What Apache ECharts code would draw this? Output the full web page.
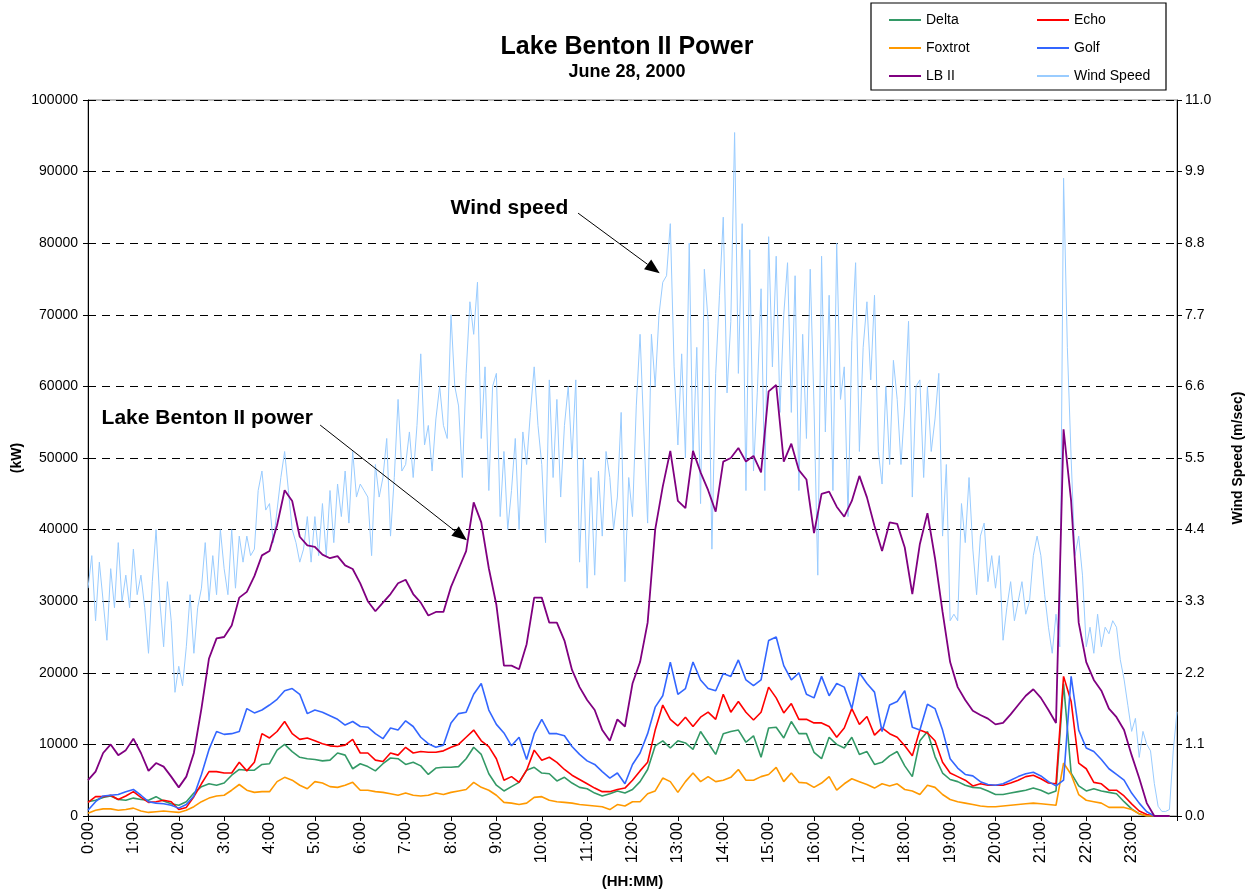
<!DOCTYPE html>
<html>
<head>
<meta charset="utf-8">
<title>Lake Benton II Power</title>
<script src="https://cdn.jsdelivr.net/npm/echarts@6/dist/echarts.min.js"></script>
<style>
  html, body { margin: 0; padding: 0; background: #fff; }
  #chart { width: 1254px; height: 890px; }
</style>
</head>
<body>
<div id="chart"></div>
<script>
// hour labels on the time axis (minutes from midnight)
const hourTicks = ['0:00', '1:00', '2:00', '3:00', '4:00', '5:00', '6:00', '7:00', '8:00', '9:00', '10:00', '11:00',
  '12:00', '13:00', '14:00', '15:00', '16:00', '17:00', '18:00', '19:00', '20:00', '21:00', '22:00', '23:00']

// power series, one value every 10 minutes (kW)
const powerStep = 10
const delta = [
  2000, 2200, 2600, 2800, 2300, 2200, 2500, 2300, 2200, 2700, 2100, 1700,
  1500, 2000, 3200, 4100, 4500, 4300, 4600, 5700, 6500, 6400, 6400, 7200,
  7300, 9200, 10000, 9000, 8200, 8000, 7900, 7700, 7800, 8800, 8500, 6600,
  7300, 6900, 6300, 7300, 8100, 8000, 7200, 7500, 7000, 5800, 6700, 6800,
  6800, 6900, 8000, 9600, 8600, 5900, 4300, 3500, 4100, 4700, 6400, 6800,
  6000, 5900, 4900, 5400, 4600, 4000, 3800, 3200, 2800, 3100, 3500, 3200,
  3700, 4800, 6500, 9800, 10500, 9500, 10500, 10200, 9300, 11800, 10200, 8600,
  11500, 11800, 12000, 10300, 11200, 8200, 12300, 12400, 10900, 13200, 11500, 11500,
  8900, 8000, 11000, 10000, 9500, 11000, 8600, 9000, 7200, 7500, 8400, 9000,
  7000, 5500, 10500, 11800, 8300, 6000, 5100, 4800, 4300, 4000, 3900, 3500,
  3000, 3000, 3200, 3400, 3600, 3900, 3600, 3100, 3500, 18500, 6000, 4200,
  3500, 3800, 3500, 3300, 3100, 2000, 1000, 300, 0, 0, 0, 0
]
const echo = [
  1900, 2700, 2700, 2900, 2300, 2800, 3400, 2600, 1900, 2000, 2200, 2000,
  900, 1200, 2700, 4500, 6200, 6200, 6000, 6000, 7500, 6300, 7500, 11500,
  10900, 11800, 13200, 11500, 10700, 10900, 10500, 10100, 9800, 9700, 9900, 10700,
  8800, 8800, 7800, 7600, 8800, 8500, 9600, 8800, 9000, 8900, 8900, 9100,
  9600, 10000, 11000, 12000, 10500, 9700, 8000, 5000, 5500, 4700, 6400, 9200,
  7800, 8200, 7500, 6500, 5700, 5100, 4500, 3900, 3400, 3400, 3700, 3900,
  5000, 6300, 7500, 12000, 15500, 13500, 12600, 13800, 12500, 13800, 14500, 13500,
  17000, 14500, 16000, 14500, 13400, 14500, 18000, 16500, 14400, 15700, 13500, 13500,
  13000, 13000, 12500, 11000, 12300, 15000, 12800, 13900, 11300, 12300, 11500, 11000,
  9800, 8400, 12000, 11600, 10500, 7500, 6000, 5500, 5000, 4200, 4500, 4300,
  4300, 4300, 4600, 5000, 5500, 5700, 5200, 4600, 4500, 19500, 16000, 7400,
  6600, 4700, 4500, 3600, 3600, 2800, 1700, 700, 200, 0, 0, 0
]
const foxtrot = [
  400, 800, 1000, 1000, 800, 900, 1100, 700, 500, 600, 700, 600,
  500, 800, 1300, 2000, 2500, 2800, 2900, 3600, 4400, 3600, 3300, 3400,
  3400, 4800, 5400, 5000, 4300, 3800, 4800, 4600, 4100, 4000, 4300, 4700,
  3600, 3600, 3400, 3300, 3100, 2900, 3200, 2900, 2800, 2900, 3200, 3000,
  3300, 3500, 3700, 4700, 4000, 3600, 2900, 1900, 1800, 1600, 1800, 2600,
  2700, 2200, 2000, 1900, 1800, 1600, 1500, 1400, 1300, 900, 1600, 1400,
  2000, 2000, 3100, 3500, 5300, 4800, 3300, 4800, 6000, 4800, 5500, 4800,
  5000, 5400, 6500, 5000, 5000, 5500, 5800, 6800, 4800, 6000, 4700, 4600,
  4000, 4600, 5500, 3600, 4500, 5200, 4800, 4400, 3900, 4500, 4200, 4500,
  3700, 3500, 3000, 4300, 4000, 3000, 2300, 2000, 1800, 1600, 1400, 1300,
  1300, 1400, 1500, 1600, 1700, 1800, 1700, 1600, 1500, 7400, 5800, 3000,
  2200, 2000, 1800, 1200, 1200, 1200, 900, 300, 0, 0, 0, 0
]
const golf = [
  800, 2000, 2800, 2900, 3000, 3400, 3700, 2900, 2000, 1800, 1700, 1500,
  1100, 1600, 2800, 5800, 9300, 11800, 11400, 11500, 11800, 15000, 14400, 14800,
  15500, 16300, 17500, 17800, 17000, 14300, 14800, 14500, 14000, 13500, 12700, 13200,
  12500, 12400, 11500, 10800, 12300, 12000, 13300, 12500, 11000, 10100, 9600, 9900,
  13000, 14300, 14500, 17000, 18500, 14800, 12800, 11600, 9800, 11000, 7900, 11500,
  13500, 11500, 11500, 11200, 9700, 8600, 7700, 7200, 6200, 5300, 6000, 4500,
  7200, 8800, 11500, 15200, 16800, 21500, 17000, 17800, 21500, 19000, 17800, 17500,
  19900, 19500, 21800, 19000, 18200, 19000, 24500, 25000, 21000, 19000, 20000, 17000,
  16500, 19500, 16800, 18500, 18000, 15000, 20000, 18500, 17300, 11800, 15500, 16000,
  17500, 12400, 12000, 15600, 15000, 12000, 8000, 6700, 5800, 5600, 4800, 4400,
  4300, 4500, 5000, 5500, 5900, 6100, 5600, 4800, 4200, 5000, 19500, 12000,
  9500, 9000, 7900, 6600, 5800, 5000, 3200, 1800, 600, 0, 0, 0
]
const lbII = [
  5000, 6200, 8800, 10000, 8500, 9200, 10800, 8800, 6300, 7400, 6900, 5500,
  4000, 5500, 8800, 15000, 22000, 24800, 25000, 26600, 30500, 31300, 33500, 36400,
  37000, 40600, 45500, 44000, 39000, 37800, 37600, 36500, 36000, 36300, 35000, 34500,
  32500, 30000, 28600, 29800, 31000, 32500, 33000, 31000, 29800, 28000, 28500, 28500,
  32000, 34500, 37000, 43800, 41000, 34600, 29500, 21000, 21000, 20500, 24000, 30500,
  30500, 27000, 27000, 24500, 20400, 18000, 16200, 14800, 12000, 10500, 13500, 12500,
  18500, 21500, 27000, 40000, 46000, 51000, 44000, 43000, 51000, 48000, 45500, 42500,
  49500, 50000, 51400, 49500, 50300, 48000, 59300, 60200, 49500, 52000, 48300, 47000,
  39500, 45000, 45300, 43200, 41800, 44000, 47500, 44500, 40500, 37000, 41000, 40800,
  37500, 31000, 38000, 42300, 36000, 28500, 21500, 18000, 16200, 14700, 14100, 13600,
  12800, 13000, 14200, 15500, 16800, 17700, 16500, 14800, 13000, 54000, 44000, 27000,
  21500, 19000, 17500, 15000, 13800, 12000, 8500, 5300, 1800, 0, 0, 0
]

// wind speed, one value every 5 minutes (m/sec)
const windStep = 5
const windSpeed = [
  3.5, 4.0, 3.0, 3.9, 3.3, 2.7, 3.8, 3.2, 4.2, 3.3, 3.7, 3.2,
  4.1, 3.4, 3.7, 3.2, 2.5, 3.6, 4.4, 3.3, 2.6, 3.6, 3.0, 1.9,
  2.3, 2.0, 2.6, 3.4, 2.5, 3.2, 3.5, 4.2, 3.3, 4.0, 3.4, 4.4,
  3.8, 3.4, 4.4, 3.5, 4.3, 3.9, 4.3, 4.0, 4.1, 5.0, 5.3, 4.7,
  4.8, 4.2, 4.7, 5.2, 5.6, 5.0, 4.4, 4.2, 3.9, 4.1, 4.6, 3.9,
  4.6, 4.0, 4.8, 4.0, 5.0, 4.2, 5.1, 4.6, 5.3, 4.5, 5.6, 4.9,
  5.1, 5.0, 4.9, 4.0, 5.4, 4.9, 5.2, 5.8, 4.3, 5.2, 6.4, 5.3,
  5.4, 5.9, 5.2, 6.0, 7.1, 5.7, 6.0, 5.3, 6.1, 6.6, 6.0, 5.8,
  7.7, 6.6, 6.3, 5.2, 6.8, 7.9, 7.4, 8.2, 5.8, 6.9, 5.0, 6.6,
  6.8, 4.6, 5.6, 4.4, 5.0, 5.8, 4.4, 5.9, 5.4, 6.2, 6.9, 6.0,
  5.4, 4.2, 6.7, 5.2, 6.4, 4.9, 6.0, 6.6, 5.5, 6.7, 3.9, 5.5,
  3.5, 5.2, 3.7, 5.3, 4.3, 5.6, 5.2, 4.4, 4.9, 6.2, 3.6, 5.2,
  4.6, 6.3, 7.4, 5.9, 4.5, 7.4, 6.6, 7.7, 8.2, 8.3, 9.1, 6.9,
  5.7, 7.1, 5.5, 8.8, 5.5, 7.2, 4.8, 8.4, 7.6, 4.1, 6.8, 8.0,
  9.2, 6.5, 7.6, 10.5, 6.8, 9.1, 5.0, 8.7, 5.3, 6.5, 8.1, 5.0,
  8.9, 6.9, 8.6, 6.2, 7.7, 8.5, 6.2, 8.3, 5.0, 7.4, 5.8, 8.4,
  6.3, 3.7, 8.6, 5.9, 8.0, 5.0, 8.8, 6.4, 6.9, 4.6, 7.3, 8.5,
  5.6, 7.2, 7.9, 6.7, 8.0, 5.6, 5.1, 6.6, 5.4, 7.0, 6.4, 5.4,
  6.3, 7.6, 4.9, 6.6, 6.7, 5.2, 6.6, 5.6, 6.1, 6.8, 4.3, 5.4,
  3.0, 3.1, 3.0, 4.8, 4.2, 5.2, 4.1, 3.4, 4.3, 4.5, 3.6, 4.0,
  3.5, 4.0, 2.7, 3.2, 3.6, 3.0, 3.3, 3.6, 3.1, 3.3, 4.0, 4.3,
  4.0, 3.4, 2.9, 2.5, 3.1, 2.6, 9.8, 7.2, 5.5, 4.0, 4.3, 3.7,
  2.6, 2.9, 2.5, 3.1, 2.6, 2.9, 2.8, 3.0, 2.9, 2.4, 2.1, 1.7,
  1.3, 1.5, 0.9, 1.3, 1.1, 1.0, 0.5, 0.15, 0.07, 0.07, 0.1, 1.0,
  1.6
]

// callouts, anchored in data space (minutes, kW)
const notes = [
  {text: 'Wind speed', at: [635, 84900], align: 'right', tail: [648, 84200], tip: [756, 75800]},
  {text: 'Lake Benton II power', at: [18, 55600], align: 'left', tail: [307, 54600], tip: [501, 38500]}
]

const FONT = "'Liberation Sans', Arial, Helvetica, sans-serif"

function toPairs (values, step) {
  return values.map((v, i) => [i * step, v])
}

function lineSeries (name, values, step, color, width, axis) {
  return {
    name: name,
    type: 'line',
    yAxisIndex: axis,
    data: toPairs(values, step),
    symbol: 'none',
    showSymbol: false,
    silent: true,
    lineStyle: {width: width, color: color},
    itemStyle: {color: color},
    emphasis: {disabled: true}
  }
}

const chart = echarts.init(document.getElementById('chart'))

const legendCommon = {
  orient: 'vertical',
  top: 13,
  padding: 0,
  icon: 'rect',
  itemWidth: 32,
  itemHeight: 2,
  itemGap: 14,
  selectedMode: false,
  textStyle: {fontFamily: FONT, fontSize: 14, lineHeight: 14, color: '#000'}
}

chart.setOption({
  animation: false,
  backgroundColor: '#fff',
  textStyle: {fontFamily: FONT, color: '#000'},
  title: {
    text: 'Lake Benton II Power',
    subtext: 'June 28, 2000',
    left: 'center',
    top: 30,
    itemGap: 3,
    textStyle: {fontFamily: FONT, fontSize: 25, fontWeight: 'bold', color: '#000'},
    subtextStyle: {fontFamily: FONT, fontSize: 18, fontWeight: 'bold', color: '#000'}
  },
  legend: [
    Object.assign({}, legendCommon, {left: 889, data: ['Delta', 'Foxtrot', 'LB II']}),
    Object.assign({}, legendCommon, {left: 1037, data: ['Echo', 'Golf', 'Wind Speed']})
  ],
  grid: {
    left: 88,
    right: 77,
    top: 100,
    bottom: 74,
    outerBoundsMode: 'none',
    show: true,
    borderColor: '#808080',
    borderWidth: 1
  },
  xAxis: {
    type: 'value',
    min: 0,
    max: 1440,
    interval: 60,
    name: '(HH:MM)',
    nameLocation: 'middle',
    nameGap: 58,
    nameTextStyle: {fontFamily: FONT, fontSize: 15, fontWeight: 'bold', color: '#000'},
    axisLine: {onZero: false, lineStyle: {color: '#000', width: 1}},
    axisTick: {show: true, length: 5, lineStyle: {color: '#000'}},
    axisLabel: {
      rotate: 90,
      margin: 6,
      fontSize: 16.5,
      color: '#000',
      fontFamily: FONT,
      formatter: function (v) {
        return hourTicks[v / 60] || ''
      }
    },
    splitLine: {show: false}
  },
  yAxis: [
    {
      type: 'value',
      min: 0,
      max: 100000,
      interval: 10000,
      name: '(kW)',
      nameLocation: 'middle',
      nameGap: 64,
      nameMoveOverlap: false,
      nameRotate: 90,
      nameTextStyle: {fontFamily: FONT, fontSize: 14, fontWeight: 'bold', color: '#000'},
      axisLine: {show: true, lineStyle: {color: '#000', width: 1}},
      axisTick: {show: true, length: 5, lineStyle: {color: '#000'}},
      axisLabel: {
        margin: 10,
        fontSize: 14,
        color: '#000',
        fontFamily: FONT,
        formatter: function (v) { return String(v) }
      },
      // dashed grid lines like the original
      splitLine: {show: true, lineStyle: {color: '#000', width: 1, type: [8, 6]}}
    },
    {
      type: 'value',
      min: 0,
      max: 11,
      interval: 1.1,
      position: 'right',
      name: 'Wind Speed (m/sec)',
      nameLocation: 'middle',
      nameGap: 54,
      nameRotate: 90,
      nameTextStyle: {fontFamily: FONT, fontSize: 14, fontWeight: 'bold', color: '#000'},
      axisLine: {show: true, lineStyle: {color: '#000', width: 1}},
      axisTick: {show: true, length: 5, lineStyle: {color: '#000'}},
      axisLabel: {
        margin: 8,
        fontSize: 14,
        color: '#000',
        fontFamily: FONT,
        formatter: function (v) { return v.toFixed(1) }
      },
      splitLine: {show: false}
    }
  ],
  series: [
    lineSeries('Wind Speed', windSpeed, windStep, '#99ccff', 1, 1),
    lineSeries('Delta', delta, powerStep, '#339966', 1.6, 0),
    lineSeries('Echo', echo, powerStep, '#ff0000', 1.6, 0),
    lineSeries('Foxtrot', foxtrot, powerStep, '#ff9900', 1.6, 0),
    lineSeries('Golf', golf, powerStep, '#3366ff', 1.6, 0),
    lineSeries('LB II', lbII, powerStep, '#800080', 1.8, 0)
  ]
})

// legend frame and callout arrows
const px = function (p) {
  return chart.convertToPixel({seriesIndex: 5}, p)
}

const graphics = [{
  type: 'rect',
  shape: {x: 871, y: 3, width: 295, height: 87},
  style: {fill: 'none', stroke: '#000', lineWidth: 1.2},
  z: 1
}]

notes.forEach(function (n) {
  const at = px(n.at)
  const a = px(n.tail)
  const b = px(n.tip)
  const ang = Math.atan2(b[1] - a[1], b[0] - a[0])
  const len = 15
  const half = 6
  const bx = b[0] - len * Math.cos(ang)
  const by = b[1] - len * Math.sin(ang)
  graphics.push({
    type: 'text',
    style: {
      text: n.text, x: at[0], y: at[1],
      fontFamily: FONT, fontSize: 21, fontWeight: 'bold', fill: '#000',
      align: n.align, verticalAlign: 'middle',
      textAlign: n.align, textVerticalAlign: 'middle'
    },
    z: 10
  })
  graphics.push({
    type: 'line',
    shape: {x1: a[0], y1: a[1], x2: bx, y2: by},
    style: {stroke: '#000', lineWidth: 1},
    z: 10
  })
  graphics.push({
    type: 'polygon',
    shape: {points: [
      [b[0], b[1]],
      [bx - half * Math.sin(ang), by + half * Math.cos(ang)],
      [bx + half * Math.sin(ang), by - half * Math.cos(ang)]
    ]},
    style: {fill: '#000'},
    z: 10
  })
})

chart.setOption({graphic: graphics})
</script>
</body>
</html>
